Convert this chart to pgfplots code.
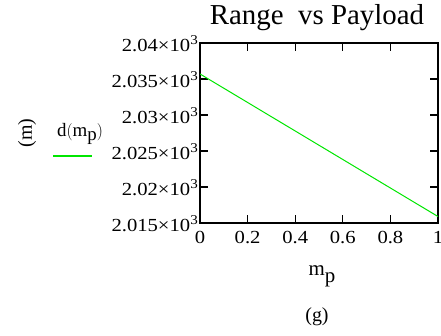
\documentclass[border=0pt]{standalone}
\usepackage{fontspec}
\setmainfont{Liberation Serif}
\usepackage{graphicx}
\usepackage{pgfplots}
\pgfplotsset{compat=1.18}
\definecolor{lgreen}{RGB}{0,230,0}
\newcommand{\tl}[1]{\scalebox{1.12}[1]{#1×10\raisebox{6.5bp}{\fontsize{13.5}{14}\selectfont 3}}}
\newcommand{\xl}[1]{\scalebox{1.12}[1]{#1}}
\begin{document}
\begin{tikzpicture}[x=1bp,y=1bp]
\useasboundingbox (0,0) rectangle (441,335);
\begin{axis}[
  at={(200bp,112bp)}, anchor=south west,
  scale only axis, width=238bp, height=180bp,
  xmin=0, xmax=1, ymin=2015, ymax=2040,
  xtick={0,0.2,0.4,0.6,0.8,1},
  xticklabels={\xl{0},\xl{0.2},\xl{0.4},\xl{0.6},\xl{0.8},\xl{1}},
  ytick={2015,2020,2025,2030,2035,2040},
  yticklabels={\tl{2.015},\tl{2.02},\tl{2.025},\tl{2.03},\tl{2.035},\tl{2.04}},
  tick align=inside, major tick length=8bp,
  tick style={line width=1.2bp, black},
  axis line style={line width=1.3bp},
  tick label style={font=\fontsize{18.5}{20}\selectfont},
  yticklabel style={xshift=-1bp, yshift=-0.5bp, inner sep=1bp},
  xticklabel style={yshift=-5bp},
  /pgf/number format/assume math mode=true,
]
\addplot[lgreen, line width=1bp] coordinates {(0,2035.7) (1,2015.9)};
\end{axis}
\node[font=\fontsize{29}{32}\selectfont] at (317,317) {Range\ \ vs Payload};
\node[font=\fontsize{20}{22}\selectfont, rotate=90] at (27,202) {(m)};
\node[font=\fontsize{19}{20}\selectfont, inner sep=0pt] at (80,201) {d$\Bigl($m\raisebox{-4.5bp}{p}$\Bigr)$};
\draw[lgreen, line width=1.2bp] (53,179) -- (92,179);
\node[font=\fontsize{21}{22}\selectfont] at (322,59) {m\raisebox{-7bp}{p}};
\node[font=\fontsize{20}{22}\selectfont] at (317,18) {(g)};
\end{tikzpicture}
\end{document}
